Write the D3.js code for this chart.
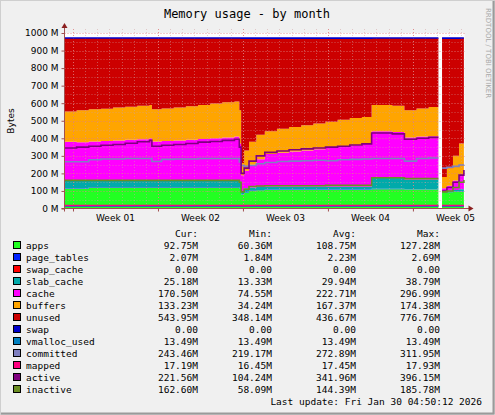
<!DOCTYPE html>
<html>
<head>
<meta charset="utf-8">
<script src="https://cdn.jsdelivr.net/npm/d3@7"></script>
<style>
  body { margin: 0; background: #f0f0f0; }
  svg { display: block; }
</style>
</head>
<body>
<div id="chart"></div>
<script>
// sample times in days from left edge of the graph (gapIndex entry = no data)
var days = [0, 1, 2, 3, 4, 5, 6, 7, 7.2, 8, 9, 10, 11, 12, 13, 14, 14.4, 14.55, 14.8, 15.2, 15.8,
  16.5, 17.5, 18.5, 19.5, 20.5, 21.5, 22.5, 23.5, 24.5, 25.3, 26, 27, 28, 29, 30, 30.8, 31.1, 31.5, 32, 32.5, 32.9];
var gapIndex = 36;

// stacked series, in M
var apps = [113, 113, 120, 120, 120, 120, 120, 120, 120, 120, 120, 120, 120, 120, 120, 120, 113, 78, 88, 103, 104,
  106, 106, 106, 106, 106, 106, 106, 106, 106, 110, 110, 110, 108, 108, 108, 0, 93, 93, 94, 94, 94];
var pageTables = [2.1, 2.1, 2.1, 2.1, 2.1, 2.1, 2.1, 2.1, 2.1, 2.1, 2.1, 2.1, 2.1, 2.1, 2.1, 2.1, 2.1, 1.9, 1.9, 2.0, 2.0,
  2.0, 2.0, 2.0, 2.0, 2.0, 2.0, 2.0, 2.0, 2.0, 2.2, 2.2, 2.2, 2.2, 2.2, 2.2, 0, 2.0, 2.0, 2.0, 2.1, 2.1];
var swapCache = [0, 0, 0, 0, 0, 0, 0, 0, 0, 0, 0, 0, 0, 0, 0, 0, 0, 0, 0, 0, 0,
  0, 0, 0, 0, 0, 0, 0, 0, 0, 0, 0, 0, 0, 0, 0, 0, 0, 0, 0, 0, 0];
var slabCache = [45, 45, 38, 38, 38, 38, 38, 38, 38, 38, 38, 38, 38, 38, 38, 38, 40, 20, 25, 15, 16,
  16, 16, 16, 16, 16, 16, 16, 16, 16, 61, 61, 61, 55, 55, 55, 0, 5, 7, 10, 14, 20];
var cache = [220, 218, 222, 225, 228, 232, 235, 240, 222, 225, 228, 232, 236, 240, 245, 250, 215, 90, 100, 130, 158,
  186, 194, 201, 206, 214, 221, 226, 236, 244, 267, 267, 263, 240, 245, 247, 0, 16, 28, 54, 80, 94];
var buffers = [172, 182, 183, 183, 187, 188, 190, 190, 183, 185, 187, 190, 194, 198, 200, 200, 190, 70, 115, 130, 140,
  130, 137, 140, 145, 147, 150, 155, 155, 154, 150, 150, 149, 155, 160, 166, 0, 64, 100, 140, 180, 210];
var unused = [419, 411, 406, 403, 396, 391, 386, 381, 406, 401, 396, 389, 381, 373, 366, 361, 411, 711, 641, 591, 551,
  531, 516, 506, 496, 486, 476, 466, 456, 449, 381, 381, 386, 411, 401, 393, 0, 791, 741, 671, 601, 551];
var swap = [0, 0, 0, 0, 0, 0, 0, 0, 0, 0, 0, 0, 0, 0, 0, 0, 0, 0, 0, 0, 0,
  0, 0, 0, 0, 0, 0, 0, 0, 0, 0, 0, 0, 0, 0, 0, 0, 0, 0, 0, 0, 0];

// line series, in M
var vmallocUsed = [13.5, 13.5, 13.5, 13.5, 13.5, 13.5, 13.5, 13.5, 13.5, 13.5, 13.5, 13.5, 13.5, 13.5, 13.5, 13.5, 13.5, 13.5, 13.5, 13.5, 13.5,
  13.5, 13.5, 13.5, 13.5, 13.5, 13.5, 13.5, 13.5, 13.5, 13.5, 13.5, 13.5, 13.5, 13.5, 13.5, 0, 13.5, 13.5, 13.5, 13.5, 13.5];
var committed = [266, 266, 278, 282, 282, 285, 285, 285, 268, 280, 282, 282, 285, 285, 285, 285, 265, 245, 240, 245, 255,
  262, 268, 270, 272, 275, 272, 278, 280, 282, 285, 285, 285, 270, 285, 288, 0, 230, 235, 240, 248, 250];
var mapped = [17, 17, 17, 17, 17, 17, 17, 17, 17, 17, 17, 17, 17, 17, 17, 17, 17, 16.5, 16.5, 17, 17,
  17, 17, 17, 17, 17, 17, 17, 17, 17, 17.5, 17.5, 17.5, 17.5, 17.5, 17.5, 0, 17, 17, 17, 17.2, 17.2];
var active = [345, 350, 355, 360, 365, 372, 380, 388, 355, 360, 365, 370, 378, 382, 388, 395, 350, 200, 230, 270, 300,
  320, 328, 335, 340, 345, 350, 355, 362, 368, 430, 430, 425, 395, 400, 405, 0, 100, 120, 150, 190, 220];
var inactive = [160, 160, 160, 160, 160, 160, 160, 160, 160, 160, 160, 160, 160, 160, 160, 160, 150, 95, 110, 125, 128,
  130, 130, 130, 130, 130, 132, 132, 132, 132, 175, 175, 175, 170, 170, 170, 0, 95, 100, 120, 150, 162];

var yTicks = [0, 100, 200, 300, 400, 500, 600, 700, 800, 900, 1000];
var weekLabels = ["Week 01", "Week 02", "Week 03", "Week 04", "Week 05"];
var weekStarts = [0.7, 7.7, 14.7, 21.7, 28.7];

var legendNames = ["apps", "page_tables", "swap_cache", "slab_cache", "cache", "buffers", "unused", "swap",
  "vmalloc_used", "committed", "mapped", "active", "inactive"];
var legendColors = ["#22ff22", "#0022ff", "#ff0000", "#00aaaa", "#ff00ff", "#ffa500", "#cc0000", "#0000cc",
  "#0080c0", "#8080c0", "#ff0080", "#800080", "#6b8e23"];
var curVals = ["92.75M", "2.07M", "0.00", "25.18M", "170.50M", "133.23M", "543.95M", "0.00", "13.49M", "243.46M", "17.19M", "221.56M", "162.60M"];
var minVals = ["60.36M", "1.84M", "0.00", "13.33M", "74.55M", "34.24M", "348.14M", "0.00", "13.49M", "219.17M", "16.45M", "104.24M", "58.09M"];
var avgVals = ["108.75M", "2.23M", "0.00", "29.94M", "222.71M", "167.37M", "436.67M", "0.00", "13.49M", "272.89M", "17.45M", "341.96M", "144.39M"];
var maxVals = ["127.28M", "2.69M", "0.00", "38.79M", "296.99M", "174.38M", "776.76M", "0.00", "13.49M", "311.95M", "17.93M", "396.15M", "185.78M"];

var width = 495;
var height = 415;
var plot = { left: 64.5, top: 33, right: 464.5, bottom: 208.5 };

var svg = d3.select("#chart").append("svg")
  .attr("width", width)
  .attr("height", height);

svg.append("rect").attr("x", 0).attr("y", 0).attr("width", width).attr("height", height).attr("fill", "#f0f0f0");
svg.append("rect").attr("x", 0.5).attr("y", 0.5).attr("width", width - 1).attr("height", height - 1)
  .attr("fill", "none").attr("stroke", "#cfcfcf");
svg.append("line").attr("x1", 1).attr("x2", width - 1).attr("y1", height - 1.5).attr("y2", height - 1.5)
  .attr("stroke", "#9a9a9a").attr("stroke-width", 2);
svg.append("line").attr("x1", width - 1.5).attr("x2", width - 1.5).attr("y1", 1).attr("y2", height - 1)
  .attr("stroke", "#9a9a9a").attr("stroke-width", 2);

var x = d3.scaleLinear().domain([0, 32.95]).range([plot.left, plot.right]);
var y = d3.scaleLinear().domain([0, 1000]).range([plot.bottom, plot.top]);

svg.append("rect")
  .attr("x", plot.left).attr("y", plot.top)
  .attr("width", plot.right - plot.left).attr("height", plot.bottom - plot.top)
  .attr("fill", "#ffffff");

// rows for drawing: before the gap, the last sample is held until the gap time
var rows = [];
days.forEach(function(d, i) {
  var src = i === gapIndex ? i - 1 : i;
  var row = {
    t: d, gap: false,
    apps: apps[src], page_tables: pageTables[src], swap_cache: swapCache[src], slab_cache: slabCache[src],
    cache: cache[src], buffers: buffers[src], unused: unused[src], swap: swap[src],
    vmalloc_used: vmallocUsed[src], committed: committed[src], mapped: mapped[src],
    active: active[src], inactive: inactive[src]
  };
  rows.push(row);
  if (i === gapIndex) {
    rows.push(Object.assign({}, row, { t: d + 0.001, gap: true }));
  }
});

var stackKeys = ["apps", "page_tables", "swap_cache", "slab_cache", "cache", "buffers", "unused", "swap"];
var stacked = d3.stack().keys(stackKeys)(rows);

var area = d3.area()
  .defined(function(d) { return !d.data.gap; })
  .curve(d3.curveStepAfter)
  .x(function(d) { return x(d.data.t); })
  .y0(function(d) { return y(d[0]); })
  .y1(function(d) { return y(d[1]); });

stacked.forEach(function(layer, k) {
  if (k === 7) return;
  svg.append("path")
    .datum(layer)
    .attr("fill", legendColors[k])
    .attr("d", area);
});

// grid drawn over the data
var grid = svg.append("g");
d3.range(1, 33).forEach(function(d) {
  grid.append("line")
    .attr("x1", Math.round(x(d + 0.7)) + 0.5).attr("x2", Math.round(x(d + 0.7)) + 0.5)
    .attr("y1", plot.top - 4).attr("y2", plot.bottom)
    .attr("stroke", "#d0a0a0").attr("stroke-dasharray", "1,2").attr("stroke-opacity", 0.5);
});
d3.range(50, 1001, 50).forEach(function(v) {
  grid.append("line")
    .attr("x1", plot.left).attr("x2", plot.right)
    .attr("y1", Math.round(y(v)) + 0.5).attr("y2", Math.round(y(v)) + 0.5)
    .attr("stroke", v % 100 === 0 ? "#e08080" : "#d0a0a0")
    .attr("stroke-dasharray", "1,2").attr("stroke-opacity", v % 100 === 0 ? 0.8 : 0.5);
});
weekStarts.forEach(function(d) {
  grid.append("line")
    .attr("x1", Math.round(x(d)) + 0.5).attr("x2", Math.round(x(d)) + 0.5)
    .attr("y1", plot.top - 4).attr("y2", plot.bottom)
    .attr("stroke", "#e08080").attr("stroke-dasharray", "1,2").attr("stroke-opacity", 0.8);
});

// lines
var lineKeys = ["vmalloc_used", "committed", "mapped", "active", "inactive"];
var line = d3.line()
  .defined(function(d) { return !d.gap; })
  .curve(d3.curveStepAfter)
  .x(function(d) { return x(d.t); })
  .y(function(d) { return y(d.v); });

lineKeys.forEach(function(key, j) {
  svg.append("path")
    .datum(rows.map(function(r) { return { t: r.t, v: r[key], gap: r.gap }; }))
    .attr("fill", "none")
    .attr("stroke", legendColors[8 + j])
    .attr("stroke-width", 1.6)
    .attr("d", line);
});

// swap line at the top of the stack
svg.append("path")
  .datum(stacked[7].map(function(d) { return { t: d.data.t, v: d[1], gap: d.data.gap }; }))
  .attr("fill", "none").attr("stroke", legendColors[7]).attr("stroke-width", 1.6)
  .attr("d", line);

// axes
var yAxis = svg.append("g")
  .attr("transform", "translate(" + plot.left + ",0)")
  .call(d3.axisLeft(y).tickValues(yTicks).tickSize(3).tickFormat(function(d) { return d + " M"; }));
yAxis.select(".domain").remove();
yAxis.selectAll("line").attr("stroke", "#a05050");
yAxis.selectAll("text").attr("font-family", "DejaVu Sans").attr("font-size", "9px").attr("fill", "#000");

var xAxis = svg.append("g")
  .attr("transform", "translate(0," + plot.bottom + ")")
  .call(d3.axisBottom(x).tickValues(weekStarts).tickSize(3).tickFormat(""));
xAxis.select(".domain").remove();
xAxis.selectAll("line").attr("stroke", "#a05050");

weekLabels.forEach(function(lbl, i) {
  svg.append("text")
    .attr("x", x(weekStarts[i] + 3.5)).attr("y", 221)
    .attr("text-anchor", "middle")
    .attr("font-family", "DejaVu Sans").attr("font-size", "9px")
    .text(lbl);
});

svg.append("line").attr("x1", plot.left).attr("x2", plot.left).attr("y1", plot.bottom + 3).attr("y2", plot.top - 6)
  .attr("stroke", "#a05050");
svg.append("path").attr("d", "M" + (plot.left - 3) + "," + (plot.top - 5) + "L" + plot.left + "," + (plot.top - 10) + "L" + (plot.left + 3) + "," + (plot.top - 5) + "Z")
  .attr("fill", "#8b2020");
svg.append("line").attr("x1", plot.left - 3).attr("x2", plot.right + 6).attr("y1", plot.bottom).attr("y2", plot.bottom)
  .attr("stroke", "#a05050");
svg.append("path").attr("d", "M" + (plot.right + 4) + "," + (plot.bottom - 3) + "L" + (plot.right + 9) + "," + plot.bottom + "L" + (plot.right + 4) + "," + (plot.bottom + 3) + "Z")
  .attr("fill", "#8b2020");

// titles
svg.append("text").attr("x", 247).attr("y", 18).attr("text-anchor", "middle")
  .attr("font-family", "DejaVu Sans Mono").attr("font-size", "12px").text("Memory usage - by month");
svg.append("text").attr("transform", "translate(14,121) rotate(-90)").attr("text-anchor", "middle")
  .attr("font-family", "DejaVu Sans").attr("font-size", "9px").text("Bytes");
svg.append("text").attr("transform", "translate(486,8) rotate(90)").attr("text-anchor", "start")
  .attr("font-family", "DejaVu Sans").attr("font-size", "7px").attr("fill", "#a8a8a8")
  .text("RRDTOOL / TOBI OETIKER");

// legend
var mono = "DejaVu Sans Mono";
var colRight = [198, 272, 356, 440];
var headers = ["Cur:", "Min:", "Avg:", "Max:"];
headers.forEach(function(h, j) {
  svg.append("text").attr("x", colRight[j]).attr("y", 237).attr("text-anchor", "end")
    .attr("font-family", mono).attr("font-size", "9.5px").text(h);
});
var cols = [curVals, minVals, avgVals, maxVals];
legendNames.forEach(function(name, i) {
  var yy = 249 + i * 12;
  svg.append("rect").attr("x", 13.5).attr("y", yy - 7.5).attr("width", 7).attr("height", 7)
    .attr("fill", legendColors[i]).attr("stroke", "#000");
  svg.append("text").attr("x", 26).attr("y", yy)
    .attr("font-family", mono).attr("font-size", "9.5px").text(name);
  cols.forEach(function(c, j) {
    svg.append("text").attr("x", colRight[j]).attr("y", yy).attr("text-anchor", "end")
      .attr("font-family", mono).attr("font-size", "9.5px").text(c[i]);
  });
});
svg.append("text").attr("x", 482).attr("y", 405).attr("text-anchor", "end")
  .attr("font-family", mono).attr("font-size", "9.5px").text("Last update:  Fri Jan 30 04:50:12 2026");
</script>
</body>
</html>
